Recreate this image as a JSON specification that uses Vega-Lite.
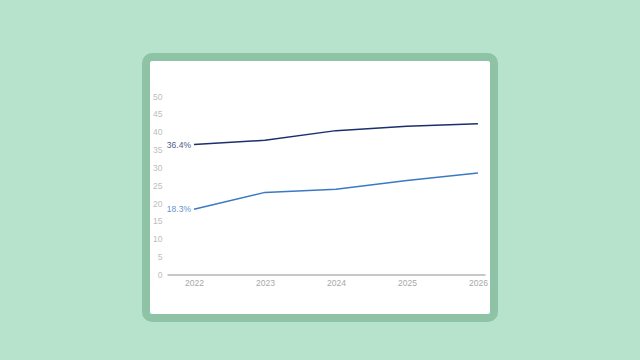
{
  "$schema": "https://vega.github.io/schema/vega-lite/v6.json",
  "autosize": {"type": "none"},
  "width": 348,
  "height": 261,
  "padding": {"left": 146, "top": 57, "right": 146, "bottom": 42},
  "background": "#b7e2cb",
  "config": {
    "view": {"fill": "#ffffff", "stroke": "#8ec4a5", "strokeWidth": 8, "cornerRadius": 6},
    "font": "Liberation Sans"
  },
  "data": {
    "values": [
      {"year": 2022, "series": "A", "value": 36.4},
      {"year": 2023, "series": "A", "value": 37.6},
      {"year": 2024, "series": "A", "value": 40.3},
      {"year": 2025, "series": "A", "value": 41.5},
      {"year": 2026, "series": "A", "value": 42.2},
      {"year": 2022, "series": "B", "value": 18.3},
      {"year": 2023, "series": "B", "value": 23.0},
      {"year": 2024, "series": "B", "value": 23.9},
      {"year": 2025, "series": "B", "value": 26.3},
      {"year": 2026, "series": "B", "value": 28.4}
    ]
  },
  "encoding": {
    "x": {
      "field": "year", "type": "quantitative",
      "scale": {"domain": [2021.62, 2026.1], "range": [21, 339], "nice": false, "zero": false},
      "axis": {
        "title": null, "values": [2022, 2023, 2024, 2025, 2026], "format": "d",
        "offset": -43.5, "grid": false, "ticks": false,
        "domainColor": "#c8c8c8", "domainWidth": 2,
        "labelColor": "#a8a8a8", "labelFontSize": 8.5, "labelPadding": 4, "labelFlush": false
      }
    },
    "y": {
      "field": "value", "type": "quantitative",
      "scale": {"domain": [0, 50], "range": [217.5, 39], "nice": false},
      "axis": {
        "title": null, "values": [0, 5, 10, 15, 20, 25, 30, 35, 40, 45, 50],
        "offset": -18, "grid": false, "ticks": false, "domain": false,
        "labelColor": "#bdbdbd", "labelFontSize": 8.5, "labelPadding": 2
      }
    },
    "color": {
      "field": "series", "type": "nominal",
      "scale": {"domain": ["A", "B"], "range": ["#1b2f6b", "#3b79c4"]},
      "legend": null
    }
  },
  "layer": [
    {
      "mark": {"type": "line", "interpolate": "linear", "strokeWidth": 1.5}
    },
    {
      "transform": [
        {"filter": "datum.year == 2022"},
        {"calculate": "format(datum.value, '.1f') + '%'", "as": "label"}
      ],
      "mark": {"type": "text", "align": "right", "baseline": "middle", "dx": -3, "fontSize": 8.5, "opacity": 0.8},
      "encoding": {"text": {"field": "label"}}
    }
  ]
}
